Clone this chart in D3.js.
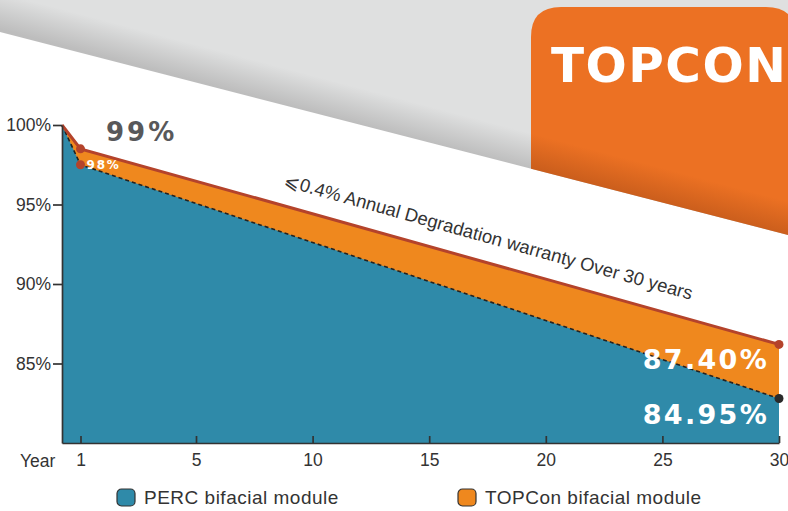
<!DOCTYPE html>
<html>
<head>
<meta charset="utf-8">
<script src="https://cdn.jsdelivr.net/npm/d3@7"></script>
<style>
  body { margin: 0; background: #fff; }
</style>
</head>
<body>
<div id="vis"></div>
<script>
// datos
const years = [0, 1, 30];
const topconValues = [100, 98.5, 86.2];
const percValues = [100, 97.5, 82.8];
const xTicks = [1, 5, 10, 15, 20, 25, 30];
const yTicks = [85, 90, 95, 100];
const startLabels = ["99%", "98%"];
const endLabels = ["87.40%", "84.95%"];
const legendNames = ["PERC bifacial module", "TOPCon bifacial module"];
const title = "TOPCON";
const note = "\u2A7D0.4% Annual Degradation warranty Over 30 years";

const SVG_WIDTH = 788;
const SVG_HEIGHT = 511;

const TEAL = "#2f8aa9";
const ORANGE = "#ef881e";
const RED = "#b4432b";
const FONT = "'Liberation Sans', Arial, sans-serif";
const BOLD = "'DejaVu Sans', Verdana, sans-serif";

const svg = d3.select("#vis").append("svg")
  .attr("width", SVG_WIDTH)
  .attr("height", SVG_HEIGHT);

// escalas (x con tramos: el 1 va pegado al origen como en el original)
const x = d3.scaleLinear().domain([0, 1, 5, 30]).range([62, 80.5, 196, 779]);
const y = d3.scaleLinear().domain([80, 100]).range([443, 125]);

// ---------------- fondo ----------------
const defs = svg.append("defs");
function shade(id, c0, c1) {
  const g = defs.append("linearGradient").attr("id", id)
    .attr("gradientUnits", "userSpaceOnUse")
    .attr("x1", 409).attr("y1", 101).attr("x2", 400).attr("y2", 135);
  g.append("stop").attr("offset", 0).attr("stop-color", c0);
  g.append("stop").attr("offset", 1).attr("stop-color", c1);
}
shade("grayShade", "#dfe0e0", "#bdbdbd");
shade("orangeShade", "#ec7123", "#c95d1c");

const edge = xx => 32 + 0.2575 * xx;   // borde diagonal de la banda gris

svg.append("path")
  .attr("d", `M0,0 L${SVG_WIDTH},0 L${SVG_WIDTH},${edge(SVG_WIDTH)} L0,${edge(0)} Z`)
  .attr("fill", "url(#grayShade)");

svg.append("path")
  .attr("d", `M531,${edge(531)} L531,37 Q531,7 561,7 L766,7 Q796,7 796,37 L796,${edge(796)} Z`)
  .attr("fill", "url(#orangeShade)");

svg.append("text")
  .attr("x", 551).attr("y", 82)
  .attr("font-family", BOLD).attr("font-weight", "bold")
  .attr("font-size", 48.5).attr("letter-spacing", 1.5)
  .attr("fill", "#fff")
  .text(title);

// ---------------- areas ----------------
const topconData = years.map((yr, i) => ({year: yr, value: topconValues[i]}));
const percData = years.map((yr, i) => ({year: yr, value: percValues[i]}));

const area = d3.area()
  .x(d => x(d.year))
  .y0(y(80))
  .y1(d => y(d.value));
const line = d3.line()
  .x(d => x(d.year))
  .y(d => y(d.value));

svg.append("path").datum(topconData).attr("d", area).attr("fill", ORANGE);
svg.append("path").datum(percData).attr("d", area).attr("fill", TEAL);

svg.append("path").datum(percData).attr("d", line)
  .attr("fill", "none").attr("stroke", "#222")
  .attr("stroke-width", 1.6).attr("stroke-dasharray", "4,3");
svg.append("path").datum(topconData).attr("d", line)
  .attr("fill", "none").attr("stroke", RED).attr("stroke-width", 3);

// puntos
svg.append("g").selectAll("circle")
  .data(topconData.slice(1))
  .join("circle")
  .attr("cx", d => x(d.year)).attr("cy", d => y(d.value))
  .attr("r", 4.5).attr("fill", RED);
svg.append("g").selectAll("circle")
  .data(percData.slice(1))
  .join("circle")
  .attr("cx", d => x(d.year)).attr("cy", d => y(d.value))
  .attr("r", 4.5).attr("fill", (d, i) => i === 0 ? RED : "#2a2a2a");

// ---------------- ejes ----------------
const yAxis = svg.append("g")
  .attr("transform", `translate(${x(0)},0)`)
  .call(d3.axisLeft(y).tickValues(yTicks).tickFormat(d => d + "%")
    .tickSize(9).tickSizeOuter(0).tickPadding(2));

const xAxis = svg.append("g")
  .attr("transform", `translate(0,${y(80)})`)
  .call(d3.axisBottom(x).tickValues(xTicks)
    .tickSizeInner(-7).tickSizeOuter(0).tickPadding(11));

[yAxis, xAxis].forEach(g => {
  g.selectAll("path, line").attr("stroke", "#333").attr("stroke-width", 1.7);
  g.selectAll("text").attr("font-family", FONT).attr("font-size", 17.5).attr("fill", "#333");
});

svg.append("text")
  .attr("x", 20).attr("y", 467)
  .attr("font-family", FONT).attr("font-size", 17.5).attr("fill", "#333")
  .text("Year");

// ---------------- etiquetas ----------------
svg.append("text")
  .attr("x", 106).attr("y", 141)
  .attr("font-family", BOLD).attr("font-weight", "bold")
  .attr("font-size", 26).attr("letter-spacing", 3)
  .attr("fill", "#58585a")
  .text(startLabels[0]);

svg.append("text")
  .attr("x", x(1) + 6).attr("y", y(percValues[1]) + 4.5)
  .attr("font-family", BOLD).attr("font-weight", "bold")
  .attr("font-size", 12).attr("letter-spacing", 1.8)
  .attr("fill", "#fff")
  .text(startLabels[1]);

svg.append("g").selectAll("text")
  .data(endLabels)
  .join("text")
  .attr("x", 769)
  .attr("y", (d, i) => i === 0 ? 369 : 424)
  .attr("text-anchor", "end")
  .attr("font-family", BOLD).attr("font-weight", "bold")
  .attr("font-size", 27).attr("letter-spacing", 2.3)
  .attr("fill", "#fff")
  .text(d => d);

svg.append("text")
  .attr("transform", "translate(283,186) rotate(15.6)")
  .attr("font-family", FONT).attr("font-size", 18.5).attr("fill", "#333")
  .text(note);

// ---------------- leyenda ----------------
const legend = svg.append("g").selectAll("g")
  .data(legendNames)
  .join("g")
  .attr("transform", (d, i) => `translate(${i === 0 ? 117 : 458},489)`);

legend.append("rect")
  .attr("width", 18).attr("height", 17).attr("rx", 4.5)
  .attr("fill", (d, i) => i === 0 ? TEAL : ORANGE)
  .attr("stroke", "#333").attr("stroke-width", 1.2);

legend.append("text")
  .attr("x", 27).attr("y", 15)
  .attr("font-family", FONT).attr("font-size", 19).attr("letter-spacing", 0.5)
  .attr("fill", "#333")
  .text(d => d);
</script>
</body>
</html>
